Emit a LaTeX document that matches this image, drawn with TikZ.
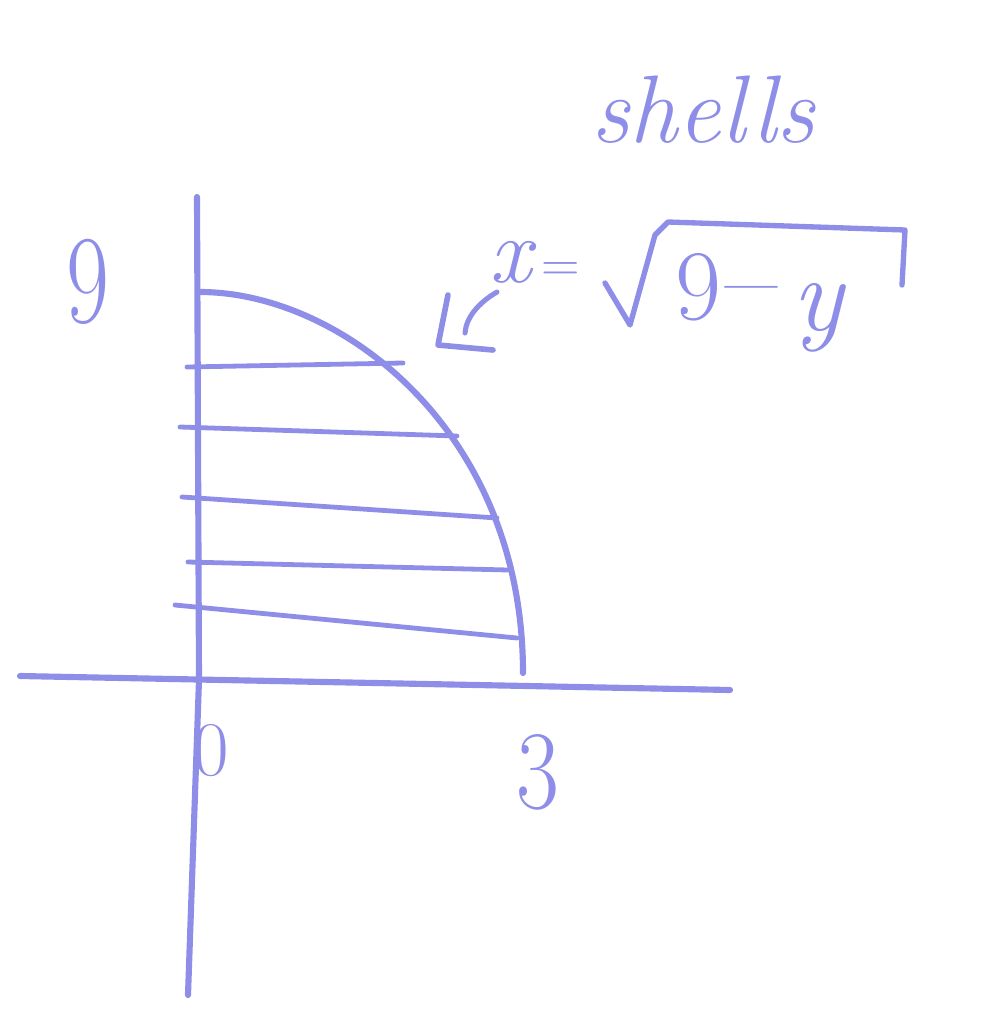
\documentclass[tikz,border=0pt]{standalone}
\usepackage{fontspec}
\begin{document}
\begin{tikzpicture}[x=0.75pt,y=-0.75pt,line cap=round,line join=round]
\definecolor{pen}{RGB}{142,142,232}
\tikzset{
  ink/.style={draw=pen,line width=4.6pt},
  hatch/.style={draw=pen,line width=3.6pt},
  lbl/.style={text=pen,inner sep=0pt,anchor=center}
}
\useasboundingbox (0,0) rectangle (998,1029);
% axes
\coordinate (ytop) at (197,197);
\coordinate (ymid) at (199,680);
\coordinate (ybot) at (188,995);
\coordinate (xleft) at (20,676);
\coordinate (xright) at (730,690);
\draw[ink] (ytop) -- (ymid) -- (ybot);
\draw[ink] (xleft) -- (xright);
% curve x = sqrt(9-y)
\coordinate (ctop) at (200,292);
\coordinate (cbot) at (523,673);
\draw[ink] (ctop) .. controls (340,292) and (523,430) .. (cbot);
% shell lines
\coordinate (a1) at (187,367); \coordinate (b1) at (403,363);
\coordinate (a2) at (180,427); \coordinate (b2) at (457,436);
\coordinate (a3) at (182,497); \coordinate (b3) at (497,518);
\coordinate (a4) at (188,562); \coordinate (b4) at (508,570);
\coordinate (a5) at (175,605); \coordinate (b5) at (517,638);
\foreach \i in {1,...,5} \draw[hatch] (a\i) -- (b\i);
% labels
\node[lbl,font=\fontsize{72}{72}\selectfont\itshape] (shells) at (703,110) {shells};
\node[lbl,font=\fontsize{70}{70}\selectfont,yscale=1.35] (nine) at (88,282) {9};
\node[lbl,font=\fontsize{58}{58}\selectfont] (zero) at (211,751) {0};
\node[lbl,font=\fontsize{70}{70}\selectfont,yscale=1.2] (three) at (538,772) {3};
% formula
\node[lbl,font=\fontsize{70}{70}\selectfont\itshape] (xv) at (510,262) {x};
\node[lbl,font=\fontsize{40}{40}\selectfont] (eq) at (561,272) {=};
\node[lbl,font=\fontsize{75}{75}\selectfont] (n9) at (698,287) {9};
\node[lbl,font=\fontsize{85}{85}\selectfont] (minus) at (752,302) {–};
\node[lbl,font=\fontsize{80}{80}\selectfont\itshape] (yv) at (818,318) {y};
\draw[ink,line width=4pt] (605,283) -- (630,325) -- (655,235) -- (668,222) -- (905,230) -- (902,285);
% arrow from formula to curve
\coordinate (sh0) at (497,292);
\coordinate (sh1) at (465,333);
\coordinate (tipA) at (448,295);
\coordinate (tip) at (438,345);
\coordinate (tipB) at (493,350);
\draw[ink,line width=3.8pt] (sh0) .. controls (478,303) and (466,318) .. (sh1);
\draw[ink,line width=4.2pt] (tipA) -- (tip) -- (tipB);
\end{tikzpicture}
\end{document}
